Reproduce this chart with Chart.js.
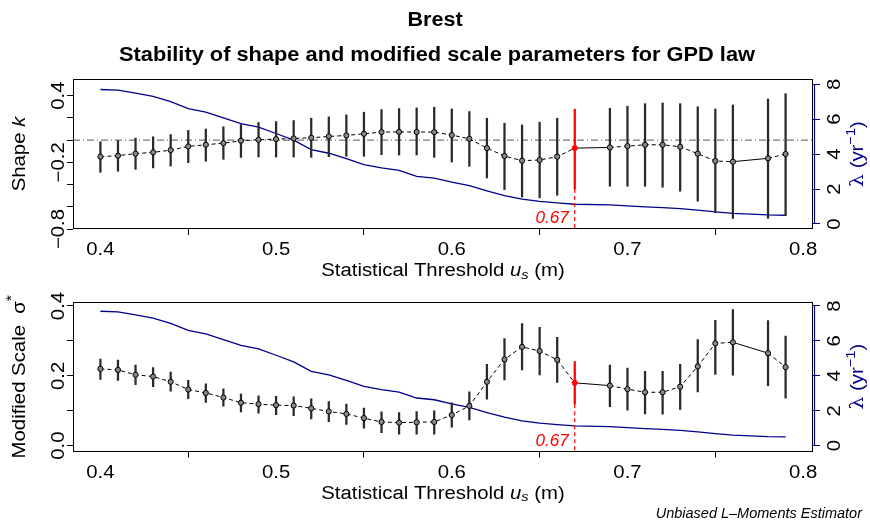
<!DOCTYPE html>
<html><head><meta charset="utf-8">
<script src="https://cdn.jsdelivr.net/npm/chart.js@4/dist/chart.umd.min.js"></script>
<style>
html,body{margin:0;padding:0;background:#fff;}
body{width:870px;height:521px;overflow:hidden;position:relative;}
canvas{position:absolute;left:0;}
#c1{top:0;}
#c2{top:290px;}
</style></head><body>
<canvas id="c1" width="870" height="290"></canvas>
<canvas id="c2" width="870" height="231"></canvas>
<script>
// ---------- data ----------
const thresholds = [0.40,0.41,0.42,0.43,0.44,0.45,0.46,0.47,0.48,0.49,0.50,0.51,0.52,0.53,0.54,0.55,0.56,0.57,0.58,0.59,0.60,0.61,0.62,0.63,0.64,0.65,0.66,0.67,0.69,0.70,0.71,0.72,0.73,0.74,0.75,0.76,0.78,0.79];
const shapeK    = [-0.149,-0.140,-0.122,-0.110,-0.090,-0.057,-0.042,-0.027,-0.006,0.003,0.009,0.015,0.021,0.033,0.042,0.057,0.072,0.074,0.073,0.072,0.045,0.012,-0.072,-0.143,-0.185,-0.179,-0.149,-0.072,-0.066,-0.054,-0.042,-0.042,-0.060,-0.122,-0.188,-0.194,-0.164,-0.125];
const shapeHigh = [-0.015,0.000,0.018,0.030,0.050,0.087,0.100,0.120,0.140,0.158,0.167,0.176,0.197,0.209,0.227,0.251,0.275,0.284,0.290,0.296,0.281,0.257,0.197,0.152,0.137,0.161,0.197,0.278,0.287,0.305,0.328,0.334,0.328,0.300,0.280,0.316,0.370,0.418];
const shapeLow  = [-0.290,-0.280,-0.263,-0.250,-0.233,-0.203,-0.190,-0.173,-0.155,-0.152,-0.152,-0.152,-0.155,-0.149,-0.146,-0.146,-0.131,-0.134,-0.134,-0.155,-0.197,-0.236,-0.340,-0.445,-0.513,-0.519,-0.496,-0.439,-0.415,-0.415,-0.415,-0.424,-0.460,-0.549,-0.654,-0.705,-0.705,-0.680];
const scaleS    = [0.220,0.217,0.203,0.198,0.183,0.161,0.151,0.138,0.123,0.119,0.116,0.115,0.107,0.098,0.091,0.079,0.068,0.066,0.067,0.068,0.088,0.114,0.183,0.247,0.283,0.271,0.246,0.180,0.172,0.162,0.153,0.153,0.169,0.227,0.293,0.296,0.265,0.225];
const scaleHigh = [0.248,0.245,0.231,0.224,0.211,0.187,0.177,0.163,0.148,0.143,0.141,0.140,0.134,0.126,0.119,0.108,0.097,0.095,0.098,0.100,0.123,0.154,0.233,0.307,0.350,0.339,0.310,0.241,0.231,0.222,0.213,0.213,0.233,0.304,0.359,0.390,0.358,0.314];
const scaleLow  = [0.190,0.187,0.175,0.169,0.156,0.135,0.124,0.113,0.097,0.093,0.089,0.086,0.077,0.069,0.061,0.050,0.037,0.033,0.033,0.033,0.053,0.074,0.133,0.188,0.217,0.203,0.181,0.119,0.112,0.102,0.091,0.090,0.104,0.154,0.204,0.202,0.172,0.136];
const lambdaRate = [7.70,7.66,7.49,7.31,7.00,6.60,6.41,6.08,5.74,5.55,5.18,4.80,4.26,4.05,3.74,3.40,3.21,3.07,2.73,2.63,2.40,2.19,1.90,1.63,1.42,1.29,1.21,1.13,1.09,1.04,0.98,0.94,0.88,0.79,0.69,0.61,0.52,0.50];
const selectedThreshold = 0.67;
const xTicks = [0.4,0.5,0.6,0.7,0.8];
const xTickLabels = ['0.4','0.5','0.6','0.7','0.8'];
const shapeTicks = [-0.8,-0.6,-0.4,-0.2,0,0.2,0.4];
const shapeTickLabels = ['\u22120.8','','','\u22120.2','','','0.4'];
const scaleTicks = [0,0.1,0.2,0.3,0.4];
const scaleTickLabels = ['0.0','','0.2','','0.4'];
const lambdaTicks = [0,2,4,6,8];
const lambdaTickLabels = ['0','2','4','6','8'];

// ---------- style ----------
const FONT = "'Liberation Sans', Arial, Helvetica, sans-serif";
const BLUE = '#00008B';
const RED = '#FF0000';
const SX = 1.13;            // horizontal glyph stretch of the reference text
const X_MIN = 0.3844, X_MAX = 0.8056;

// draw a run of text parts, optionally rotated (-90deg), stretched horizontally by sx
function drawParts(c, parts, x, y, align, baseline, sx, rot) {
  c.save();
  c.translate(x, y);
  if (rot) c.rotate(-Math.PI/2);
  c.textBaseline = baseline;
  c.textAlign = 'left';
  let total = 0;
  parts.forEach(p => { c.font = p.font; p.w = c.measureText(p.t).width * sx; total += p.w; });
  let pos = align === 'center' ? -total/2 : (align === 'right' ? -total : 0);
  parts.forEach(p => {
    c.save();
    c.font = p.font;
    c.translate(pos, p.dy || 0);
    c.scale(sx, 1);
    c.fillText(p.t, 0, 0);
    c.restore();
    pos += p.w;
  });
  c.restore();
}

function makePanel(canvasId, cfg) {
  const idx = thresholds.indexOf(selectedThreshold);
  const datasets = [];
  datasets.push({type:'line', data: thresholds.map((x,i)=>({x, y: lambdaRate[i]})), yAxisID:'y2',
    borderColor: BLUE, borderWidth: 1.3, pointRadius: 0, tension: 0, order: 6});
  if (cfg.refLine) {
    datasets.push({type:'line', data:[{x:X_MIN,y:0},{x:X_MAX,y:0}], yAxisID:'y',
      borderColor:'#555', borderWidth:1, borderDash:[7,3,1,3], pointRadius:0, order:5});
  }
  datasets.push({type:'bar', data: thresholds.map((x,i)=>({x, y:[cfg.low[i], cfg.high[i]]})), yAxisID:'y',
    backgroundColor: thresholds.map((x,i)=> i===idx ? RED : '#2a2a2a'), borderWidth:0, barThickness:1.6, order:3});
  datasets.push({type:'line', data:[{x:selectedThreshold, y:cfg.low[idx]},{x:selectedThreshold, y:cfg.yMin}], yAxisID:'y',
    borderColor: RED, borderWidth: 1.2, borderDash:[4,3], pointRadius:0, order:2});
  datasets.push({type:'line', data: thresholds.map((x,i)=>({x, y: cfg.est[i]})), yAxisID:'y',
    borderColor:'#000', borderWidth:1, borderDash:[4,3],
    segment:{borderDash: s => (s.p1.parsed.x - s.p0.parsed.x > 0.015 ? [] : [4,3])},
    pointRadius: 2.6, pointBorderWidth: 1,
    pointBackgroundColor: thresholds.map((x,i)=> i===idx ? RED : '#888'),
    pointBorderColor: thresholds.map((x,i)=> i===idx ? RED : '#000'),
    order:1});

  const panelPlugin = {
    id: 'panelText',
    afterDraw(chart) {
      const c = chart.ctx, a = chart.chartArea;
      const sx = chart.scales.x, sy = chart.scales.y, sy2 = chart.scales.y2;
      c.save();
      c.strokeStyle = '#000'; c.lineWidth = 1;
      c.strokeRect(Math.round(a.left)+0.5, Math.round(a.top)+0.5, Math.round(a.right-a.left)-1, Math.round(a.bottom-a.top)-1);
      // blue right axis line
      c.strokeStyle = BLUE; c.lineWidth = 1.2;
      c.beginPath();
      const rx = Math.round(a.right) + 1.5;
      c.moveTo(rx, sy2.getPixelForValue(lambdaTicks[0]));
      c.lineTo(rx, sy2.getPixelForValue(lambdaTicks[lambdaTicks.length-1]));
      c.stroke();
      const F18 = '18px ' + FONT;
      // x tick labels
      c.fillStyle = '#000';
      xTicks.forEach((v,i) => {
        drawParts(c, [{t:xTickLabels[i], font:F18}], sx.getPixelForValue(v), a.bottom + 21, 'center', 'middle', SX, false);
      });
      // left tick labels
      cfg.ticks.forEach((v,i) => {
        const lab = cfg.tickLabels[i];
        if (!lab) return;
        drawParts(c, [{t:lab, font:F18}], a.left - 9, sy.getPixelForValue(v), 'center', 'alphabetic', SX, true);
      });
      // right tick labels
      lambdaTicks.forEach((v,i) => {
        drawParts(c, [{t:lambdaTickLabels[i], font:F18}], a.right + 27, sy2.getPixelForValue(v), 'center', 'alphabetic', SX, true);
      });
      // left title
      drawParts(c, cfg.yTitle, 20, (a.top+a.bottom)/2, 'center', 'middle', SX, true);
      // right title
      c.fillStyle = BLUE;
      drawParts(c, [
        {t:'\u03BB', font:'18px "DejaVu Serif", serif'},
        {t:' (yr', font:F18},
        {t:'\u22121', font:'13px '+FONT, dy:-7},
        {t:')', font:F18}
      ], 858, (a.top+a.bottom)/2, 'center', 'middle', SX, true);
      // x title
      c.fillStyle = '#000';
      drawParts(c, [
        {t:'Statistical Threshold ', font:F18},
        {t:'u', font:'italic 18px '+FONT},
        {t:'s', font:'italic 13px '+FONT, dy:4},
        {t:' (m)', font:F18}
      ], (a.left+a.right)/2, a.bottom + 42, 'center', 'middle', SX, false);
      // selected threshold label
      c.fillStyle = RED;
      drawParts(c, [{t:'0.67', font:'italic 16px '+FONT}], sx.getPixelForValue(selectedThreshold) - 6, a.bottom - 6, 'right', 'alphabetic', 1.07, false);
      if (cfg.extra) cfg.extra(c, chart);
      c.restore();
    }
  };

  return new Chart(document.getElementById(canvasId), {
    type: 'bar',
    data: { datasets },
    plugins: [panelPlugin],
    options: {
      responsive: false, animation: false, devicePixelRatio: 1,
      layout: { padding: { top: cfg.padTop, left: 0, right: 0, bottom: 0 } },
      plugins: { legend: {display:false}, tooltip: {enabled:false}, title:{display:false} },
      scales: {
        x: {
          type:'linear', min: X_MIN, max: X_MAX, offset: false,
          afterBuildTicks: s => { s.ticks = xTicks.map(v => ({value: v})); },
          ticks: { display:false },
          grid: { drawOnChartArea:false, drawTicks:true, tickLength:6, color:'#000', tickColor:'#000' },
          border: { display:false },
          afterFit: s => { s.height = cfg.xHeight; }
        },
        y: {
          type:'linear', position:'left', min: cfg.yMin, max: cfg.yMax,
          afterBuildTicks: s => { s.ticks = cfg.ticks.map(v => ({value: v})); },
          ticks: { display:false },
          grid: { drawOnChartArea:false, drawTicks:true, tickLength:6, color:'#000', tickColor:'#000' },
          border: { display:false },
          afterFit: s => { s.width = 73; }
        },
        y2: {
          type:'linear', position:'right', min: cfg.y2Min, max: cfg.y2Max,
          afterBuildTicks: s => { s.ticks = lambdaTicks.map(v => ({value: v})); },
          ticks: { display:false },
          grid: { drawOnChartArea:false, drawTicks:true, tickLength:7, color:BLUE, tickColor:BLUE },
          border: { display:false },
          afterFit: s => { s.width = 57; }
        }
      }
    }
  });
}

makePanel('c1', {
  est: shapeK, low: shapeLow, high: shapeHigh,
  yMin: -0.8, yMax: 0.55, y2Min: -0.287, y2Max: 8.30,
  ticks: shapeTicks, tickLabels: shapeTickLabels,
  padTop: 79, xHeight: 61, refLine: true,
  yTitle: [{t:'Shape ', font:'18px '+FONT}, {t:'k', font:'italic 18px '+FONT}],
  extra: (c, chart) => {
    c.fillStyle = '#000';
    drawParts(c, [{t:'Brest', font:'bold 20px '+FONT}], 435, 20, 'center', 'middle', 1.08, false);
    drawParts(c, [{t:'Stability of shape and modified scale parameters for GPD law', font:'bold 20px '+FONT}], 437, 55, 'center', 'middle', 1.09, false);
  }
});

makePanel('c2', {
  est: scaleS, low: scaleLow, high: scaleHigh,
  yMin: -0.0172, yMax: 0.4123, y2Min: -0.344, y2Max: 8.246,
  ticks: scaleTicks, tickLabels: scaleTickLabels,
  padTop: 11.7, xHeight: 69.3, refLine: false,
  yTitle: [{t:'Modified Scale  \u03C3', font:'18px '+FONT}, {t:'*', font:'14px '+FONT, dy:-8}],
  extra: (c, chart) => {
    c.fillStyle = '#000';
    drawParts(c, [{t:'Unbiased L\u2013Moments Estimator', font:'italic 14.5px '+FONT}], 862, 228, 'right', 'alphabetic', 1.0, false);
  }
});
</script>
</body></html>
